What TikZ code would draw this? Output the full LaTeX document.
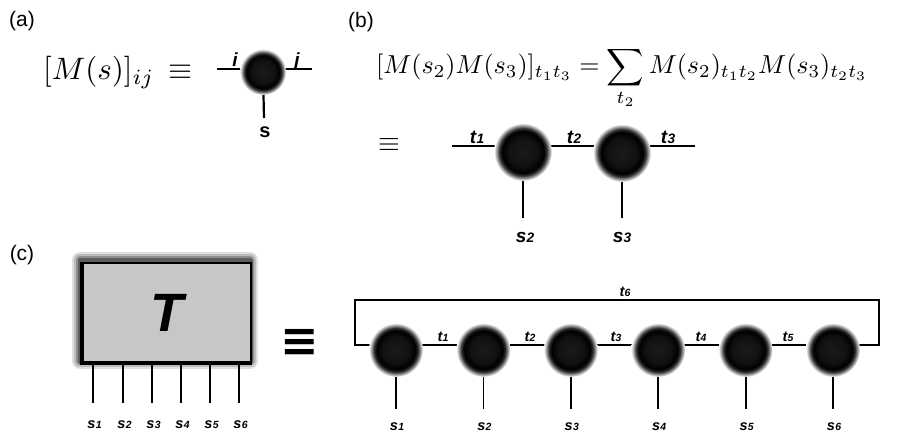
\documentclass[tikz,border=0pt]{standalone}
\usepackage{fontspec}
\setsansfont{Liberation Sans}
\newfontfamily\djv{DejaVu Sans}
\pgfdeclarelayer{bg}
\pgfdeclarelayer{bgg}
\pgfsetlayers{bgg,bg,main}
\pgfdeclareradialshading{fuzzball}{\pgfpoint{0bp}{0bp}}{color(0bp)=(black!90); color(12bp)=(black!93); color(18bp)=(black); color(20.5bp)=(black!80); color(23bp)=(black!35); color(25bp)=(white); color(50bp)=(white)}
\newcommand{\ix}[2]{#1\kern0.3pt\raisebox{-0.6pt}{\scalebox{0.72}{#2}}}
\tikzset{
  ball/.style={circle, inner sep=0pt, minimum size=#1, shade, shading=fuzzball},
  wire/.style={line width=2.2pt},
  thinwire/.style={line width=1.8pt},
  panel/.style={font=\sffamily\fontsize{21}{21}\selectfont, inner sep=0pt},
  lblB/.style={font=\sffamily\bfseries\itshape\fontsize{19}{19}\selectfont, inner sep=0pt, anchor=base},
  lblC/.style={font=\sffamily\bfseries\itshape\fontsize{14.5}{14.5}\selectfont, inner sep=0pt, anchor=base},
  mathtxt/.style={inner sep=0pt},
  tbox/.style={draw, line width=2pt, fill=black!22, inner sep=0pt,
     font=\sffamily\bfseries\itshape\fontsize{54}{54}\selectfont},
  haze/.style={draw=black, line join=round, opacity=#1},
}
\begin{document}
\begin{tikzpicture}[x=1pt, y=-1pt]
\useasboundingbox (0,0) rectangle (906,436);
% ---------- (a)
\node[panel] (la) at (22,21) {(a)};
\node[mathtxt, anchor=base west] (fa) at (43,80) {\scalebox{3.1}{$[M(s)]_{ij}\,\equiv$}};
\node[ball=46pt] (A) at (263,72) {};
\coordinate (aL) at (217,69);
\coordinate (aR) at (312,69);
\coordinate (aD) at (264,118);
\node[lblB] (ai) at (235,67) {i};
\node[lblB] (aj) at (297,67) {j};
\node[lblB, font=\sffamily\bfseries\fontsize{20}{20}\selectfont] (as) at (265,138) {s};
% ---------- (b)
\node[panel] (lb) at (361,22) {(b)};
\node[mathtxt, anchor=base west] (fb) at (376,74)
  {\scalebox{2.6}{$\displaystyle [M(s_2)M(s_3)]_{t_1t_3}=\sum_{t_2}M(s_2)_{t_1t_2}M(s_3)_{t_2t_3}$}};
\node[mathtxt] (eb) at (389,145) {\scalebox{2.8}{$\equiv$}};
\node[ball=58pt] (B1) at (523,152) {};
\node[ball=58pt] (B2) at (622,153) {};
\coordinate (bL) at (452,146);
\coordinate (bR) at (695,146);
\coordinate (bD1) at (523,218);
\coordinate (bD2) at (622,218);
\node[lblB] (bt1) at (477,143) {\ix{t}{1}};
\node[lblB] (bt2) at (574,143) {\ix{t}{2}};
\node[lblB] (bt3) at (668,143) {\ix{t}{3}};
\node[lblB] (bs2) at (525,242) {\ix{s}{2}};
\node[lblB] (bs3) at (622,242) {\ix{s}{3}};
% ---------- (c)
\node[panel] (lc) at (22,255) {(c)};
\node[tbox, minimum width=168pt, minimum height=99pt] (T) at (167,312.5) {T};
\draw[line width=4pt] (T.north west) -- (T.south west) -- (T.south east);
\begin{pgfonlayer}{bgg}
  \foreach \w/\o in {16/0.12,12/0.16,8/0.24,5/0.35}{
    \draw[haze=\o, line width=\w pt] ([xshift=-2pt,yshift=2pt]T.north west) rectangle ([xshift=-2pt,yshift=2pt]T.south east);
  }
\end{pgfonlayer}
\foreach \k/\x in {1/93,2/123,3/152,4/181,5/210,6/239}{
  \coordinate (Tk\k) at (\x,403);
  \draw[thinwire] (Tk\k |- T.south) -- (Tk\k);
  \node[lblC] (Ts\k) at (\x+1.5,428) {\ix{s}{\k}};
}
\node[font=\djv\bfseries\fontsize{46}{46}\selectfont, inner sep=0pt] (eq) at (300,343) {≡};
\foreach \k in {1,...,6}{
  \node[ball=54pt] (C\k) at ({396+87.4*(\k-1)},350) {};
  \coordinate (Cd\k) at ({396+87.4*(\k-1)},409);
  \node[lblC] (Cs\k) at ({397+87.4*(\k-1)},430) {\ix{s}{\k}};
}
\coordinate (rLB) at (355,345);
\coordinate (rRB) at (879,345);
\coordinate (rRT) at (879,300);
\coordinate (rLT) at (355,300);
\node[lblC] (ct1) at (443,341) {\ix{t}{1}};
\node[lblC] (ct2) at (530,341) {\ix{t}{2}};
\node[lblC] (ct3) at (616,341) {\ix{t}{3}};
\node[lblC] (ct4) at (701,341) {\ix{t}{4}};
\node[lblC] (ct5) at (788,341) {\ix{t}{5}};
\node[lblC] (ct6) at (625,296) {\ix{t}{6}};
% ---------- wires behind the balls
\begin{pgfonlayer}{bg}
  \draw[wire] (aL) -- (aR);
  \draw[wire] (A.center) -- (aD);
  \draw[wire] (bL) -- (bR);
  \draw[wire] (B1.center) -- (bD1);
  \draw[wire] (B2.center) -- (bD2);
  \draw[thinwire] (rLB) -- (rRB) -- (rRT) -- (rLT) -- cycle;
  \foreach \k in {1,...,6}{\draw[thinwire] (C\k.center) -- (Cd\k);}
\end{pgfonlayer}
\end{tikzpicture}
\end{document}
